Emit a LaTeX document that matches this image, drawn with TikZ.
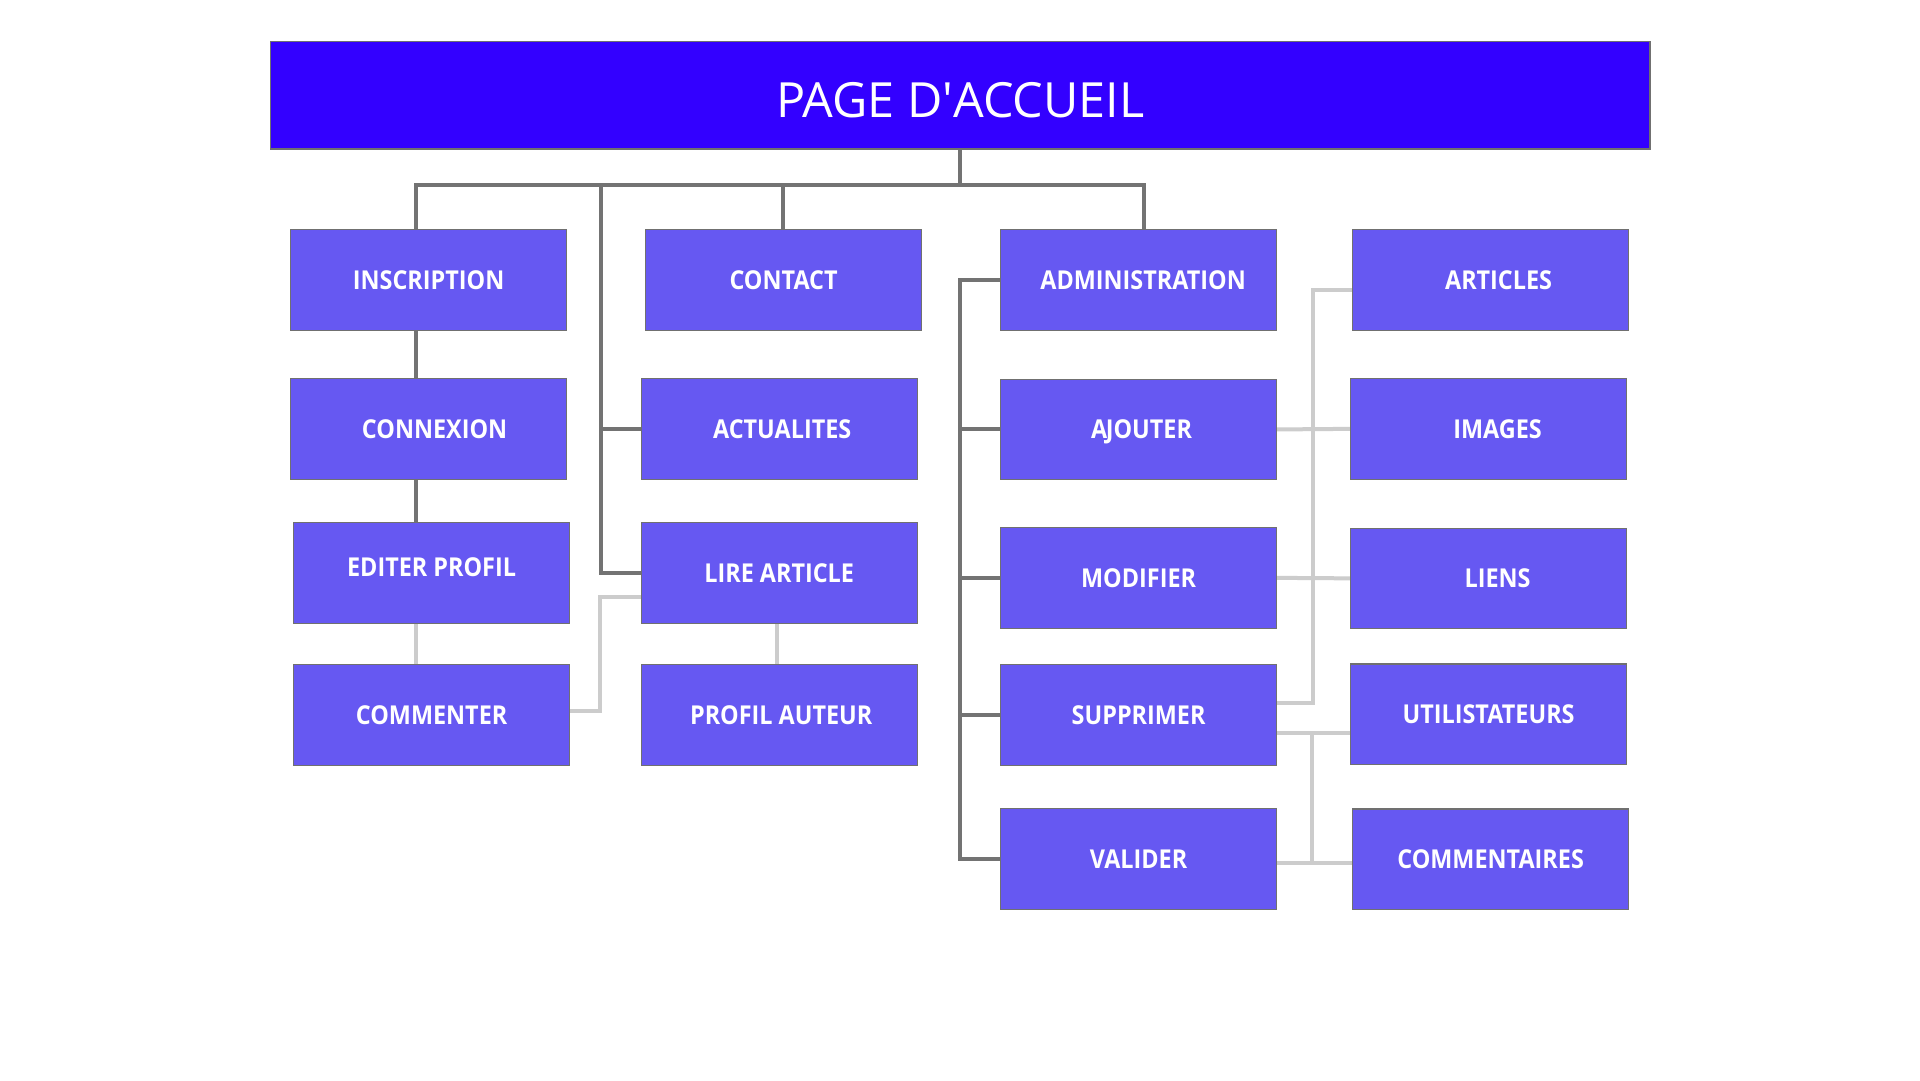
\documentclass[tikz,border=0pt]{standalone}
\usepackage{fontspec}
\setmainfont{Open Sans}[FakeStretch=0.9]
\newfontfamily\titlefont{Open Sans}
\usetikzlibrary{backgrounds}
\definecolor{boxfill}{RGB}{102,88,242}
\definecolor{titlefill}{RGB}{51,0,255}
\definecolor{boxline}{RGB}{112,112,112}
\definecolor{darkline}{RGB}{115,115,115}
\definecolor{lightline}{RGB}{204,204,204}
\begin{document}
\begin{tikzpicture}[x=1pt,y=-1pt,
  box/.style={draw=boxline, line width=1.2pt, fill=boxfill, text=white,
    font=\bfseries\fontsize{26}{28}\selectfont, minimum width=276pt,
    minimum height=100.5pt, anchor=north west, inner sep=0pt},
  titlebox/.style={draw=boxline, line width=1.2pt, fill=titlefill, text=white,
    font=\titlefont\fontsize{48.5}{50}\selectfont, minimum width=1379.4pt,
    minimum height=107.3pt, anchor=north west, inner sep=0pt,
    text height=45pt, text depth=0pt},
  dk/.style={draw=darkline, line width=4pt},
  lt/.style={draw=lightline, line width=4pt}]
\useasboundingbox (0,0) rectangle (1920,1080);

\node[titlebox] (title) at (270,41) {PAGE D\textquotesingle ACCUEIL};

\node[box] (ins)  at (290,229)   {INSCRIPTION};
\node[box] (cnx)  at (290,378)   {\hspace*{12pt}CONNEXION};
\node[box, text height=19pt, text depth=12pt] (edit) at (293,522) {EDITER PROFIL};
\node[box] (comm) at (293,664)   {COMMENTER};

\node[box] (con)  at (645,229)   {CONTACT};
\node[box] (act)  at (640.6,378) {\hspace*{6pt}ACTUALITES};
\node[box] (lire) at (640.6,522) {LIRE ARTICLE};
\node[box] (prof) at (640.6,664) {\hspace*{4pt}PROFIL AUTEUR};

\node[box] (adm)  at (1000,229)   {\hspace*{9pt}ADMINISTRATION};
\node[box, text depth=0pt] (aj) at (1000,378.6) {\hspace*{6pt}A\kern-1.5pt JOUTER};
\node[box] (mod)  at (1000,527)   {MODIFIER};
\node[box] (sup)  at (1000,664)   {SUPPRIMER};
\node[box] (val)  at (1000,808)   {VALIDER};

\node[box] (art)  at (1352,229)   {\hspace*{16pt}ARTICLES};
\node[box] (img)  at (1350,378)   {\hspace*{18pt}IMAGES};
\node[box] (lien) at (1350,527.5) {\hspace*{18pt}LIENS};
\node[box] (uti)  at (1350,663.3) {UTILISTATEURS};
\node[box] (comA) at (1352,808.4) {COMMENTAIRES};

\begin{scope}[on background layer]
  \fill[white] (0,0) rectangle (1920,1080);
  \coordinate (busL) at (416,185);
  \coordinate (busR) at (1144,185);
  \coordinate (cC) at (783,185);
  \coordinate (cA) at (601,185);
  \coordinate (aV) at (960,0);
  \coordinate (pV) at (777,0);
  \coordinate (lA) at (600,597);
  \coordinate (rV) at (1313,0);
  \coordinate (rV2) at (1312,0);
  % dark connectors
  \draw[dk] (title.south) -- (title.south |- busL);
  \draw[dk] (ins.north -| busL) -- (busL) -- (busR) -- (busR |- adm.north);
  \draw[dk] (cC) -- (cC |- con.north);
  \draw[dk] (cA) -- (cA |- lire.west) -- (lire.west);
  \draw[dk] (cA |- act.west) -- (act.west);
  \draw[dk] (ins.south -| busL) -- (cnx.north -| busL);
  \draw[dk] (cnx.south -| busL) -- (edit.north -| busL);
  \draw[dk] (adm.west) -- (adm.west -| aV) -- (val.west -| aV) -- (val.west);
  \draw[dk] (aj.west -| aV) -- (aj.west);
  \draw[dk] (mod.west -| aV) -- (mod.west);
  \draw[dk] (sup.west -| aV) -- (sup.west);
  % light connectors
  \draw[lt] (edit.south -| busL) -- (comm.north -| busL);
  \draw[lt] (lire.south -| pV) -- (prof.north -| pV);
  \draw[lt] (comm.east |- 0,711) -| (lA) -- (lA -| lire.west);
  \draw[lt] (aj.east) -- (img.west);
  \draw[lt] (mod.east) -- (lien.west);
  \draw[lt] (sup.east |- 0,703) -| (rV |- 0,290) -- (art.west |- 0,290);
  \draw[lt] (sup.east |- 0,733) -- (uti.west |- 0,733);
  \draw[lt] (val.east |- 0,863) -- (comA.west |- 0,863);
  \draw[lt] (rV2 |- 0,733) -- (rV2 |- 0,863);
\end{scope}
\end{tikzpicture}
\end{document}
